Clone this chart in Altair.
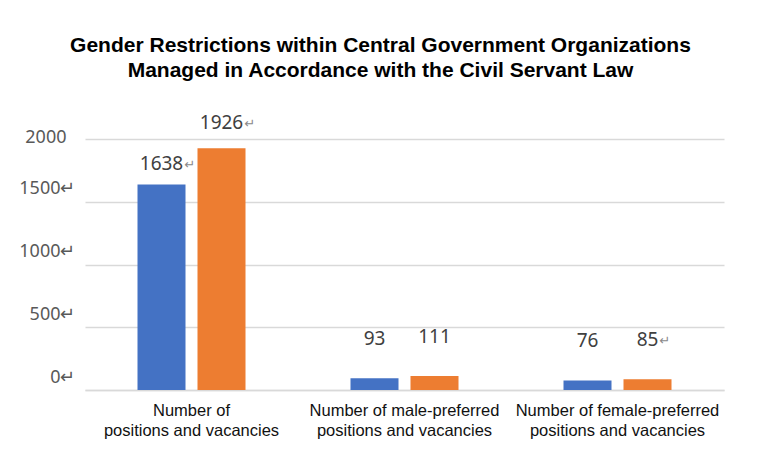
import altair as alt
import pandas as pd

categories = [
    "Number of|positions and vacancies",
    "Number of male-preferred|positions and vacancies",
    "Number of female-preferred|positions and vacancies",
]
series_a = [1638, 93, 76]
series_b = [1926, 111, 85]
mark_a = ["↵", "", ""]
mark_b = ["↵", "", "↵"]
y_ticks = [0, 500, 1000, 1500, 2000]

rows = []
for c, va, vb, ma, mb in zip(categories, series_a, series_b, mark_a, mark_b):
    rows.append({"category": c, "series": "Series 1", "value": va, "mark": ma})
    rows.append({"category": c, "series": "Series 2", "value": vb, "mark": mb})
df = pd.DataFrame(rows)

x_enc = alt.X("category:N", sort=categories, title=None,
              scale=alt.Scale(paddingInner=0, paddingOuter=0),
              axis=alt.Axis(labelExpr="split(datum.label, '|')", labelAngle=0,
                            labelFont="Liberation Sans", labelFontSize=16.5,
                            labelColor="#111111", labelLineHeight=20,
                            labelPadding=12, labelLimit=0, ticks=False, domain=True,
                            domainColor="#d9d9d9", domainWidth=1.5, grid=False))
xo_enc = alt.XOffset("series:N", scale=alt.Scale(paddingInner=0.2, paddingOuter=0.875))
y_enc = alt.Y("value:Q", title=None,
              scale=alt.Scale(domain=[0, 2000], nice=False),
              axis=alt.Axis(values=y_ticks,
                            labelExpr="datum.value == 2000 ? '2000' : datum.value + '↵'",
                            labelFont="Noto Sans", labelFontSize=18, labelColor="#595959",
                            labelOffset={"condition": {"test": "datum.value == 2000", "value": -2},
                                         "value": -13},
                            labelPadding={"condition": {"test": "datum.value == 2000", "value": 19},
                                          "value": 10},
                            ticks=False, domain=False,
                            gridColor="#d9d9d9", gridWidth=1.5))

base = alt.Chart(df)

bars = base.mark_bar().encode(
    x=x_enc, xOffset=xo_enc, y=y_enc,
    color=alt.Color("series:N", legend=None,
                    scale=alt.Scale(domain=["Series 1", "Series 2"],
                                    range=["#4472C4", "#ED7D31"])),
)


def num_layer(test, dy):
    return base.transform_filter(test).mark_text(
        font="Noto Sans", fontSize=19, color="#404040", baseline="middle",
        align="center", dy=dy,
    ).encode(x=x_enc, xOffset=xo_enc, y=y_enc, text=alt.Text("value:Q"))


def ret_layer(test, dx, dy):
    return base.transform_filter(test).mark_text(
        font="DejaVu Sans", fontSize=13, color="#8a8a8a", baseline="middle",
        align="left", dx=dx, dy=dy,
    ).encode(x=x_enc, xOffset=xo_enc, y=y_enc, text="mark:N")


layers = [
    bars,
    num_layer("datum.value > 1000 && datum.series == 'Series 1'", -20),
    num_layer("datum.value > 1000 && datum.series == 'Series 2'", -25),
    num_layer("datum.value < 1000", -39),
    ret_layer("datum.value > 1000 && datum.series == 'Series 1'", 23, -19),
    ret_layer("datum.value > 1000 && datum.series == 'Series 2'", 23, -24),
    ret_layer("datum.value < 1000", 12, -38),
]

chart = alt.layer(*layers).properties(
    width=639, height=251,
    autosize=alt.AutoSizeParams(type="none"),
    padding={"left": 77, "top": 131, "right": 26, "bottom": 60},
    title=alt.TitleParams(
        text=["Gender Restrictions within Central Government Organizations",
              "Managed in Accordance with the Civil Servant Law"],
        font="Liberation Sans", fontSize=21, fontWeight="bold", color="#000000",
        lineHeight=25, anchor="middle", frame="group", dx=-24, offset=33,
    ),
).configure(background="white").configure_view(stroke=None)

chart.save("out.html", embed_options={"renderer": "svg", "actions": False})
